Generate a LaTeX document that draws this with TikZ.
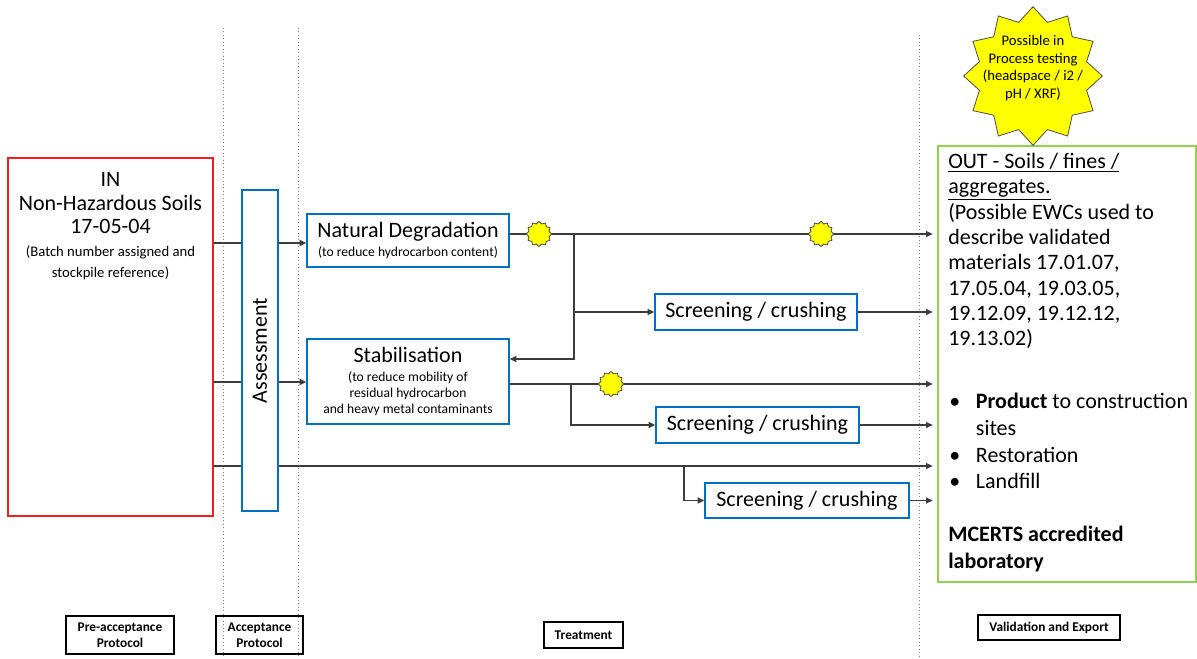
\documentclass[tikz,border=0pt]{standalone}
\usepackage{fontspec}
\setmainfont{Carlito}
\usetikzlibrary{shapes.geometric,arrows.meta}

\definecolor{procblue}{RGB}{0,112,192}
\definecolor{inred}{RGB}{245,30,30}
\definecolor{outgreen}{RGB}{146,208,80}
\definecolor{flowgray}{RGB}{60,60,60}
\definecolor{markyellow}{RGB}{255,255,0}

\begin{document}
\begin{tikzpicture}[x=0.75pt,y=-0.75pt,
  flow/.style={draw=flowgray,line width=1pt},
  arr/.style={flow,-{Triangle[length=5pt,width=4.5pt]}},
  toout/.style={arr,shorten >=3.5pt},
  procbox/.style={draw=procblue,line width=1.1pt,fill=white,inner sep=0pt,align=center},
  bigfont/.style={font=\fontsize{16.5}{19}\selectfont},
  dotline/.style={draw=gray,dotted,line width=0.6pt},
  marker/.style={star,star points=12,star point ratio=1.22,draw=gray!60!black,
    line width=0.6pt,fill=markyellow,minimum size=19pt,inner sep=0pt},
  labelbox/.style={draw=black,line width=0.8pt,inner sep=0pt,align=center,
    font=\bfseries\fontsize{10}{12}\selectfont}]

\useasboundingbox (0,0) rectangle (1197,659);

% phase separators
\draw[dotline] (223,28) -- (223,659);
\draw[dotline] (298,28) -- (298,659);
\draw[dotline] (919,35) -- (919,659);

% incoming material
\node[draw=inred,line width=1.1pt,minimum width=153.75pt,minimum height=268.5pt,inner sep=0pt]
  (in) at (110.5,337) {};
\node[align=center,inner sep=0pt,font=\fontsize{16.5}{17.25}\selectfont,anchor=north]
  (intxt) at (110.5,172)
  {IN\\[0.6pt]Non-Hazardous Soils\\[0.6pt]17-05-04\\[0pt]
   {\fontsize{11}{15}\selectfont (Batch number assigned and}\\[-2pt]
   {\fontsize{11}{15}\selectfont stockpile reference)}};

% assessment column
\node[procbox,minimum width=27pt,minimum height=240.75pt] (as) at (260,350.5) {};
\node[rotate=90,bigfont,inner sep=0pt] (astxt) at (as.center) {Assessment};

% treatment boxes
\node[procbox,minimum width=151.5pt,minimum height=39.75pt] (nd) at (408,240.5)
  {{\fontsize{16.5}{18}\selectfont Natural Degradation}\\[2pt]
   {\fontsize{10.2}{12}\selectfont (to reduce hydrocarbon content)}};
\node[procbox,minimum width=151.5pt,minimum height=63.75pt] (st) at (408,381.5)
  {{\fontsize{16.5}{18}\selectfont Stabilisation}\\[2.5pt]
   {\fontsize{10.2}{12}\selectfont (to reduce mobility of}\\
   {\fontsize{10.2}{12}\selectfont residual hydrocarbon}\\
   {\fontsize{10.2}{12}\selectfont and heavy metal contaminants}};
\node[procbox,bigfont,minimum width=151.5pt,minimum height=27pt] (sc1) at (756,312) {Screening / crushing};
\node[procbox,bigfont,minimum width=152.25pt,minimum height=27pt] (sc2) at (757.5,425) {Screening / crushing};
\node[procbox,bigfont,minimum width=153pt,minimum height=26.25pt] (sc3) at (807,500.5) {Screening / crushing};

% output box
\node[draw=outgreen,line width=1pt,minimum width=193.5pt,minimum height=327pt,inner sep=0pt]
  (out) at (1067,364) {};
\node[anchor=north west,align=left,inner sep=0pt,font=\fontsize{16.5}{19}\selectfont]
  (outa) at (948,153)
  {\underline{OUT - Soils / fines /}\\
   \underline{aggregates.}\\
   (Possible EWCs used to\\
   describe validated\\
   materials 17.01.07,\\
   17.05.04, 19.03.05,\\
   19.12.09, 19.12.12,\\
   19.13.02)};
\node[anchor=north west,align=left,inner sep=0pt,font=\fontsize{16.5}{20}\selectfont]
  (outb) at (949,393)
  {\makebox[20pt][l]{\textbullet}\textbf{Product} to construction\\
   \makebox[20pt][l]{}sites\\
   \makebox[20pt][l]{\textbullet}Restoration\\
   \makebox[20pt][l]{\textbullet}Landfill};
\node[anchor=north west,align=left,inner sep=0pt,font=\bfseries\fontsize{16.5}{20}\selectfont]
  (outc) at (948,526)
  {MCERTS accredited\\laboratory};

% in-process testing
\node[star,star points=12,star point ratio=1.25,draw=gray!60!black,line width=0.6pt,
  fill=markyellow,minimum size=104pt,inner sep=0pt] (test) at (1033,76) {};
\node[align=center,inner sep=0pt,font=\fontsize{11}{13.2}\selectfont] (testtxt) at (1033,68)
  {Possible in\\Process testing\\(headspace / i2 /\\pH / XRF)};

% row reference points
\coordinate (r1) at (0,243);
\coordinate (r2) at (0,382);
\coordinate (r3) at (0,466);
\coordinate (r0) at (0,234);
\coordinate (r4) at (0,384);
\coordinate (rk) at (0,359);
\coordinate (b1) at (574,234);
\coordinate (b2) at (571,384);
\coordinate (b3) at (684,466);

% intake and assessment routes
\draw[flow] (in.east |- r1) -- (as.west |- r1);
\draw[flow] (in.east |- r2) -- (as.west |- r2);
\draw[flow] (in.east |- r3) -- (as.west |- r3);
\draw[arr] (as.east |- r1) -- (nd.west |- r1);
\draw[arr] (as.east |- r2) -- (st.west |- r2);
\draw[toout] (as.east |- r3) -- (out.west |- r3);

% natural degradation routes
\draw[toout] (nd.east |- r0) -- (out.west |- r0);
\draw[arr] (b1) |- (st.east |- rk);
\draw[arr] (b1 |- sc1.west) -- (sc1.west);
\draw[toout] (sc1.east) -- (out.west |- sc1.east);

% stabilisation routes
\draw[toout] (st.east |- r4) -- (out.west |- r4);
\draw[arr] (b2) |- (sc2.west);
\draw[toout] (sc2.east) -- (out.west |- sc2.east);

% direct route
\draw[arr] (b3) |- (sc3.west);
\draw[toout] (sc3.east) -- (out.west |- sc3.east);

% testing points
\node[marker] (m1) at (539,234) {};
\node[marker] (m2) at (821,234) {};
\node[marker] (m3) at (611,384) {};

% phase labels
\node[labelbox,minimum width=81pt,minimum height=28.5pt] (lpre) at (120,635) {Pre-acceptance\\Protocol};
\node[labelbox,minimum width=65.25pt,minimum height=28.5pt] (lacc) at (259.5,635) {Acceptance\\Protocol};
\node[labelbox,minimum width=59.25pt,minimum height=19.5pt] (ltreat) at (583.5,635) {Treatment};
\node[labelbox,minimum width=106.5pt,minimum height=18.75pt] (lval) at (1049,627.5) {Validation and Export};

\end{tikzpicture}
\end{document}
